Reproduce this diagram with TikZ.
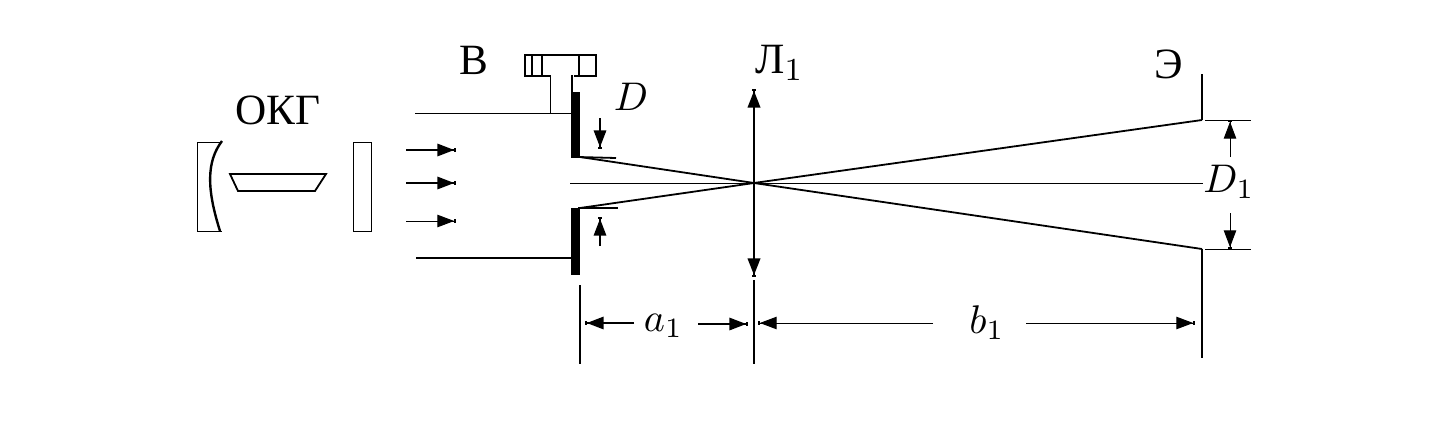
\documentclass[tikz,border=0pt]{standalone}
\usepackage{fontspec}
\newfontfamily\cyrfont{Liberation Serif}
\usepackage{tikz}
\usetikzlibrary{arrows.meta, positioning, calc}

\begin{document}
\begin{tikzpicture}[
  x=0.25pt, y=-0.25pt,
  >={Triangle[length=4.2pt, width=3.1pt] Square[length=0.45pt, width=0.8pt]},
  every node/.style={font=\normalsize, inner sep=0pt},
  thinline/.style={line width=0.25pt},
  medline/.style={line width=0.45pt},
  thickline/.style={line width=0.6pt},
  plate/.style={fill=black, draw=none},
  arr/.style={->, medline},
  thinarr/.style={->, thinline},
  cyr/.style={font=\cyrfont\fontsize{10.8}{12}\selectfont}
]
  \useasboundingbox (0,0) rectangle (1432,428);
  % labels
  \node[cyr] (OKG) at (277.5,110.5) {ОКГ};
  \node[cyr] (B) at (474,60) {В};
  \node[cyr] (L1) at (779.5,63) {Л$_1$};
  \node[cyr] (E) at (1168.5,64) {Э};
  \node (Dsmall) at (631,97) {$D$};
  \node (a1) at (663.5,326) {$a_1$};
  \node (b1) at (987,323) {$b_1$};
  \node (D1) at (1229,182) {$D_1$};
  % key points
  \coordinate (focus) at (754,183);
  \coordinate (upedge) at (580,157);
  \coordinate (lowedge) at (580,208);
  \coordinate (scrup) at (1202,120);
  \coordinate (scrlow) at (1202,249);
  % laser
  \draw[thinline] (222,142) -- (197,142) -- (197,231) -- (222,231);
  \draw[line width=0.6pt] (222,141) .. controls (206,162) and (207,190) .. (220,231);
  \draw[medline] (230,174) -- (326,174) -- (315,191) -- (238,191) -- cycle;
  \draw[thinline] (353,142) rectangle (371,231);
  \draw[arr] (406,150) -- (456,150);
  \draw[arr] (406,183) -- (456,183);
  \draw[thinarr] (406,221) -- (456,221);
  % diaphragm
  \draw[thinline] (415,113) -- (572,113);
  \draw[medline] (416,258) -- (572,258);
  \fill[plate] (571,92) rectangle (580,158);
  \fill[plate] (571,208) rectangle (580,275);
  \draw[medline] (525,55) rectangle (596,76);
  \draw[medline] (532,55) -- (532,76);
  \draw[medline] (542,55) -- (542,76);
  \draw[medline] (579,55) -- (579,76);
  \draw[white, line width=1pt] (551,76) -- (574,76);
  \draw[thinline] (550,76) -- (550,113);
  \draw[medline] (572,75) -- (572,92);
  \draw[medline] (578,157) -- (616,158);
  \draw[medline] (578,208) -- (618,208);
  \draw[arr] (600,118) -- (600,149);
  \draw[arr] (600,246) -- (600,217);
  % rays
  \draw[thinline] (570,183) -- (D1.west |- focus);
  \draw[medline] (upedge) -- (focus) -- (scrlow);
  \draw[medline] (lowedge) -- (focus) -- (scrup);
  % lens and screen
  \draw[<->, thickline] (754,89) -- (754,277);
  \draw[medline] (754,280) -- (754,364);
  \draw[medline] (1202,74) -- (scrup);
  \draw[medline] (scrlow) -- (1202,358);
  \draw[medline] (580,285) -- (580,364);
  % dimensions
  \draw[arr] (634,323) -- (585,323);
  \draw[arr] (698,324) -- (748,324);
  \draw[thinarr] (933,323) -- (758,323);
  \draw[thinarr] (1026,323) -- (1195,323);
  \draw[thinline] (1205,120) -- (1251,120);
  \draw[thinline] (1205,249) -- (1251,249);
  \draw[thinarr] (1230,157) -- (1230,120);
  \draw[thinarr] (1230,213) -- (1230,249);
\end{tikzpicture}
\end{document}
